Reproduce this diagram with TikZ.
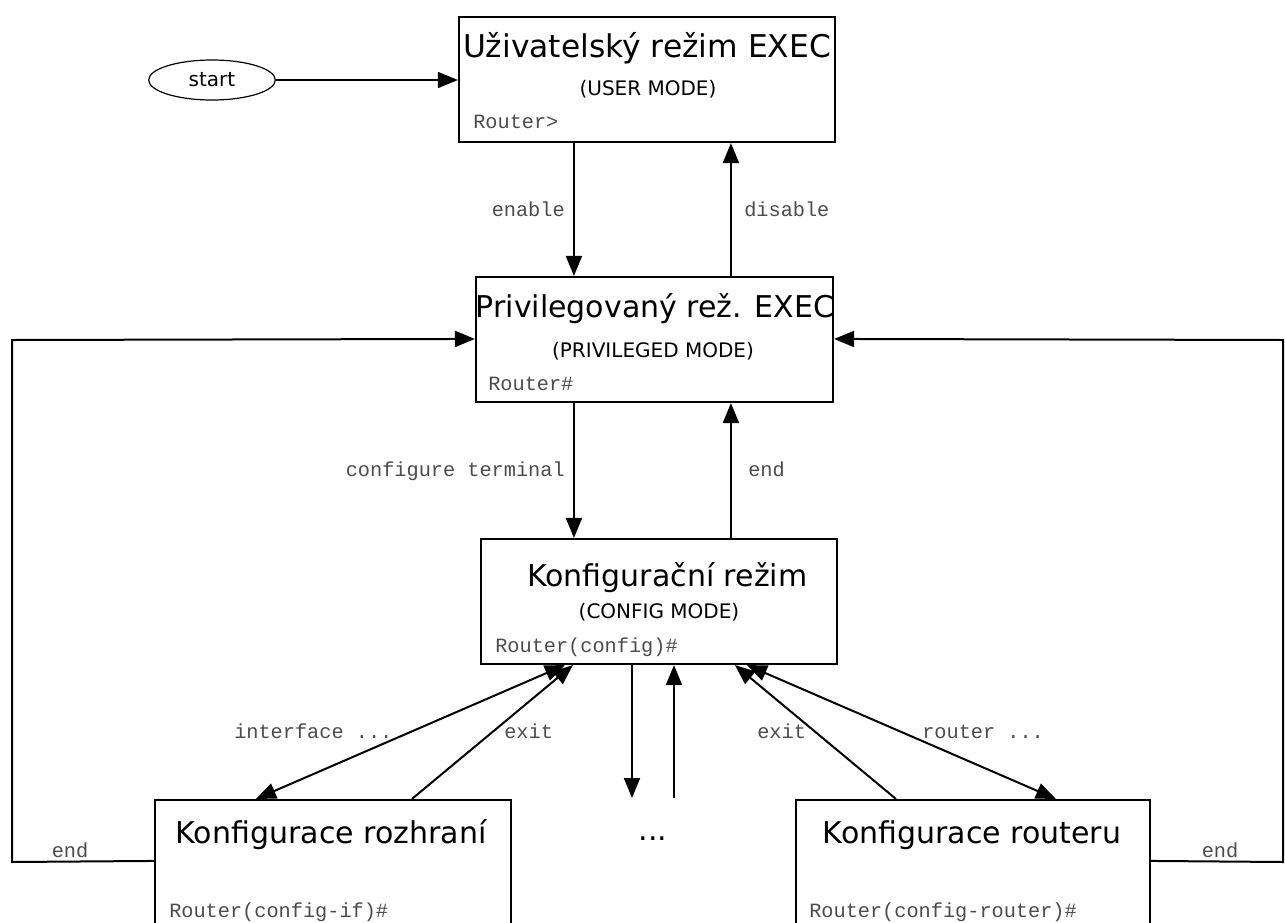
\documentclass[tikz,border=0pt]{standalone}
\usepackage{fontspec}
\setsansfont{DejaVu Sans}
\setmonofont{Liberation Mono}
\usetikzlibrary{arrows.meta,fit,calc,shapes.geometric}
\begin{document}
\begin{tikzpicture}[x=0.75pt,y=-0.75pt,
  box/.style={draw, line width=1.6pt, inner sep=0pt},
  arr/.style={line width=1.5pt, -{Triangle[length=15pt,width=12pt]}},
  biarr/.style={line width=1.5pt, {Triangle[length=15pt,width=12pt]}-{Triangle[length=15pt,width=12pt]}},
  title/.style={font=\sffamily\fontsize{22.5}{26}\selectfont, inner sep=0pt, anchor=base},
  sub/.style={font=\sffamily\fontsize{15}{18}\selectfont, inner sep=0pt, anchor=base},
  prompt/.style={font=\ttfamily\fontsize{15.2}{18}\selectfont, text=black!70, inner sep=0pt, anchor=base west},
  lbl/.style={font=\ttfamily\fontsize{15.2}{18}\selectfont, text=black!70, inner sep=0pt},
]
\useasboundingbox (0,0) rectangle (1285,922);
\fill[white] (0,0) rectangle (1285,922);
\clip (0,0) rectangle (1285,922);

% mode boxes
\node[box, fit={(459,17) (835,142)}] (user) {};
\node[box, fit={(476,277) (833,402)}] (priv) {};
\node[box, fit={(481,539) (837,664)}] (config) {};
\node[box, fit={(155,800) (511,950)}] (ifbox) {};
\node[box, fit={(796,800) (1150,950)}] (rtbox) {};
\node[draw, ellipse, line width=0.9pt, minimum width=95pt, minimum height=30pt, inner sep=0pt] (start) at (212,80) {};

% texts inside the boxes
\node[sub] (starttxt) at (212,86) {start};
\node[title, font=\sffamily\fontsize{23.5}{27}\selectfont] (userT) at (647,57) {Uživatelský režim EXEC};
\node[sub] (userS) at (648,95) {(USER MODE)};
\node[prompt] (userP) at (473,128) {Router>};
\node[title] (privT) at (655,317) {Privilegovaný rež. EXEC};
\node[sub] (privS) at (653,357) {(PRIVILEGED MODE)};
\node[prompt] (privP) at (488,390) {Router\#};
\node[title, anchor=base west] (confT) at (527,586) {Konfigurační režim};
\node[sub] (confS) at (659,618) {(CONFIG MODE)};
\node[prompt] (confP) at (495,652) {Router(config)\#};
\node[title] (ifT) at (331,843) {Konfigurace rozhraní};
\node[prompt] (ifP) at (169,917) {Router(config-if)\#};
\node[title] (rtT) at (972,843) {Konfigurace routeru};
\node[prompt] (rtP) at (809,917) {Router(config-router)\#};
\node[title] (dots) at (653,840) {...};

% connectors
\draw[line width=1.1pt, -{Triangle[length=15pt,width=12pt]}] (start.east) -- (user.west |- start.east);
\draw[arr] ($(user.south west)+(116,0)$) -- ($(priv.north west)+(99,0)$);
\draw[arr] ($(priv.north west)+(256,0)$) -- ($(user.south west)+(273,0)$);
\draw[arr] ($(priv.south west)+(99,0)$) -- ($(config.north west)+(94,0)$);
\draw[arr] ($(config.north west)+(251,0)$) -- ($(priv.south west)+(256,0)$);

\coordinate (downEnd) at (632,798);
\coordinate (upStart) at (674,798);
\draw[arr] (config.south west -| downEnd) -- (downEnd);
\draw[arr] (upStart) -- (config.south west -| upStart);

\draw[biarr] ($(config.south west)+(85,0)$) -- ($(ifbox.north west)+(102,0)$);
\draw[arr] ($(ifbox.north west)+(258,0)$) -- ($(config.south west)+(93,0)$);
\draw[arr] ($(rtbox.north west)+(101,0)$) -- ($(config.south west)+(255,0)$);
\draw[biarr] ($(config.south west)+(267,0)$) -- ($(rtbox.north west)+(261,0)$);

\draw[arr] ($(ifbox.north west)+(0,62)$) -- (12,862) -- (12,340) -- ($(priv.north west)+(0,63)$);
\draw[arr] ($(rtbox.north east)+(0,62)$) -- (1283,862) -- (1283,340) -- ($(priv.north east)+(0,63)$);

% connector labels
\node[lbl, anchor=base east] (lEnable) at (565,216) {enable};
\node[lbl, anchor=base west] (lDisable) at (744,216) {disable};
\node[lbl, anchor=base east] (lConf) at (565,476) {configure terminal};
\node[lbl, anchor=base west] (lEnd) at (748,476) {end};
\node[lbl, anchor=base west] (lIf) at (234,738) {interface ...};
\node[lbl, anchor=base west] (lExitL) at (504,738) {exit};
\node[lbl, anchor=base west] (lExitR) at (757,738) {exit};
\node[lbl, anchor=base west] (lRouter) at (922,738) {router ...};
\node[lbl, anchor=base] (lEndL) at (70,857) {end};
\node[lbl, anchor=base] (lEndR) at (1220,857) {end};
\end{tikzpicture}
\end{document}
